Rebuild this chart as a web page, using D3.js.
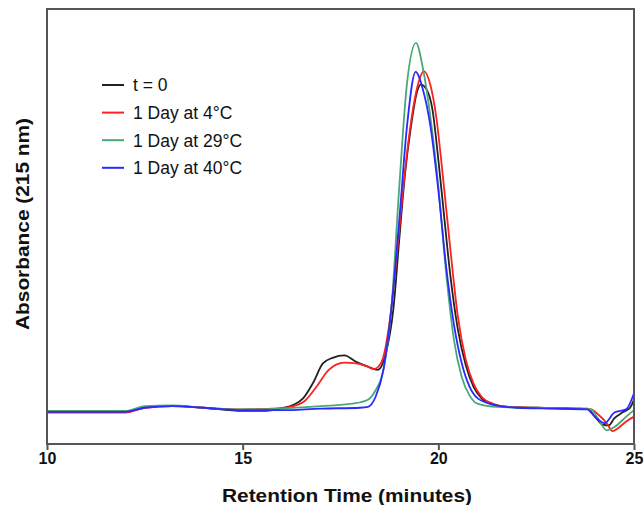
<!DOCTYPE html>
<html>
<head>
<meta charset="utf-8">
<script src="https://cdn.jsdelivr.net/npm/d3@7"></script>
<style>
  body { margin: 0; background: #fff; }
  svg { display: block; font-family: "Liberation Sans", Arial, sans-serif; }
</style>
</head>
<body>
<svg id="chart"></svg>
<script>
// retention time (min) / absorbance (arbitrary)
const seriesNames = ["t = 0", "1 Day at 4\u00b0C", "1 Day at 29\u00b0C", "1 Day at 40\u00b0C"];
const seriesColors = ["#222222", "#ff2020", "#4aa878", "#2a2aff"];
const xTicks = [10, 15, 20, 25];

const black = [
  [10, 0], [12, 0], [12.5, 5.8], [13.2, 7.4], [14, 5], [15, 1], [15.5, 1], [16, 4.5], [16.3, 8.7],
  [16.55, 17], [16.8, 36], [17.05, 60], [17.3, 67], [17.6, 70], [17.9, 62], [18.2, 56], [18.45, 52],
  [18.65, 71], [18.85, 127], [19, 213], [19.15, 296], [19.3, 354], [19.45, 396], [19.55, 406],
  [19.7, 400], [19.85, 375], [20, 313], [20.15, 242], [20.3, 172], [20.5, 102], [20.7, 58],
  [20.9, 31], [21.1, 17], [21.4, 9], [21.8, 6], [22.5, 5], [23.5, 4], [23.8, 4], [24, -6],
  [24.2, -16], [24.35, -17], [24.5, -8], [24.7, -1], [24.9, 5], [25, 15]
];
const red = [
  [10, -1], [12, -1], [12.5, 5], [13.2, 7], [14, 5], [15, 3], [16, 4.5], [16.3, 7],
  [16.6, 14], [16.9, 32], [17.2, 52], [17.6, 61], [17.9, 60], [18.15, 57], [18.35, 53],
  [18.55, 62], [18.75, 110], [18.95, 200], [19.15, 300], [19.35, 375], [19.5, 410], [19.63, 423],
  [19.8, 405], [19.95, 365], [20.1, 300], [20.3, 205], [20.5, 118], [20.7, 65], [20.9, 35],
  [21.1, 19], [21.4, 10], [21.8, 6], [22.5, 5], [23.5, 4], [23.9, 3], [24.1, -4], [24.3, -14],
  [24.45, -24], [24.6, -20], [24.8, -12], [25, -6]
];
const green = [
  [10, 1], [12, 1], [12.5, 7], [13.2, 8], [14, 5], [15, 3], [16, 4], [17, 7], [17.8, 10],
  [18.2, 15], [18.4, 27], [18.6, 53], [18.8, 128], [19, 278], [19.2, 408], [19.43, 458],
  [19.6, 428], [19.8, 365], [20, 280], [20.2, 172], [20.4, 89], [20.6, 43], [20.8, 20],
  [21, 10], [21.5, 6], [22.5, 5], [23.5, 4], [23.9, 3], [24.1, -10], [24.3, -23], [24.5, -19],
  [24.8, -6], [25, 2]
];
const blue = [
  [10, 0], [12, 0], [12.5, 5], [13.2, 7], [14, 5], [15, 2], [16, 2], [17, 4], [18, 5],
  [18.2, 6], [18.4, 19], [18.6, 53], [18.8, 128], [19, 237], [19.2, 355], [19.42, 422],
  [19.6, 401], [19.8, 354], [20, 275], [20.2, 180], [20.4, 108], [20.6, 60], [20.8, 31],
  [21, 17], [21.4, 9], [22, 5], [23, 4], [23.8, 3], [24, -6], [24.25, -14], [24.5, -1],
  [24.8, 3], [25, 23]
];
const allSeries = [black, red, green, blue];

const width = 644, height = 505;
const margin = {top: 9, right: 10, bottom: 61, left: 47};
const innerW = width - margin.left - margin.right;
const innerH = height - margin.top - margin.bottom;

const svg = d3.select("#chart").attr("width", width).attr("height", height);

const x = d3.scaleLinear().domain([10, 25]).range([margin.left, margin.left + innerW]);
const y = d3.scaleLinear().domain([-40, 500]).range([margin.top + innerH, margin.top]);

// curves
const line = d3.line()
  .x(function(d) { return x(d[0]); })
  .y(function(d) { return y(d[1]); })
  .curve(d3.curveMonotoneX);

svg.append("g")
  .selectAll("path")
  .data(allSeries)
  .enter()
  .append("path")
  .attr("d", line)
  .attr("fill", "none")
  .attr("stroke", function(d, i) { return seriesColors[i]; })
  .attr("stroke-width", 1.8);

// frame
svg.append("rect")
  .attr("x", margin.left).attr("y", margin.top)
  .attr("width", innerW).attr("height", innerH)
  .attr("fill", "none").attr("stroke", "#555").attr("stroke-width", 2);

// x axis
const xAxis = svg.append("g")
  .attr("transform", "translate(0," + (margin.top + innerH) + ")")
  .call(d3.axisBottom(x).tickValues(xTicks).tickSize(6).tickPadding(3).tickFormat(d3.format("d")));
xAxis.select(".domain").remove();
xAxis.selectAll("line").attr("stroke", "#555").attr("stroke-width", 2);
xAxis.selectAll("text")
  .attr("fill", "#111")
  .style("font-size", "16px")
  .style("font-weight", "bold");

// axis titles
svg.append("text")
  .attr("x", 347).attr("y", 502)
  .attr("text-anchor", "middle")
  .attr("textLength", 250).attr("lengthAdjust", "spacingAndGlyphs")
  .style("font-size", "19px").style("font-weight", "bold").attr("fill", "#111")
  .text("Retention Time (minutes)");

svg.append("text")
  .attr("transform", "translate(29," + 224 + ") rotate(-90)")
  .attr("text-anchor", "middle")
  .attr("textLength", 212).attr("lengthAdjust", "spacingAndGlyphs")
  .style("font-size", "19px").style("font-weight", "bold").attr("fill", "#111")
  .text("Absorbance (215 nm)");

// legend
const legend = svg.append("g").attr("transform", "translate(102,85)");
const item = legend.selectAll("g")
  .data(seriesNames)
  .enter()
  .append("g")
  .attr("transform", function(d, i) { return "translate(0," + (i * 27.6) + ")"; });
item.append("line")
  .attr("x1", 0).attr("x2", 22)
  .attr("stroke", function(d, i) { return seriesColors[i]; })
  .attr("stroke-width", 2);
item.append("text")
  .attr("x", 31).attr("dy", "0.36em")
  .style("font-size", "17.5px").attr("fill", "#111")
  .text(function(d) { return d; });
</script>
</body>
</html>
